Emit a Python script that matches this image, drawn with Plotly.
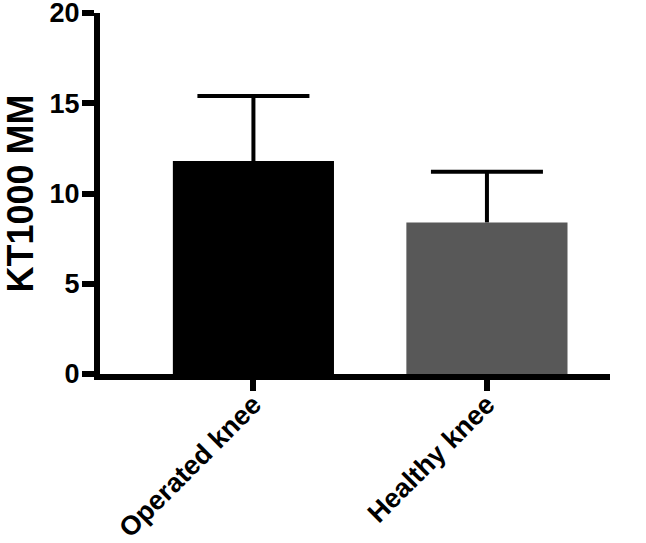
import plotly.graph_objects as go

categories = ["Operated knee", "Healthy knee"]
means = [11.8, 8.4]
errors = [3.6, 2.8]
bar_colors = ["#000000", "#585858"]
y_ticks = [0, 5, 10, 15, 20]

tops = [m + e for m, e in zip(means, errors)]

fig = go.Figure()
fig.add_trace(go.Bar(
    x=categories, y=means, width=0.69,
    marker=dict(color=bar_colors, line=dict(width=0)),
    showlegend=False,
))
fig.add_trace(go.Scatter(
    x=categories, y=tops, mode="markers",
    marker=dict(symbol="line-ew-open", size=80, color="black",
                line=dict(width=4, color="black")),
    error_y=dict(type="data", symmetric=False, array=[0, 0], arrayminus=errors,
                 width=0, thickness=4, color="black"),
    showlegend=False,
))

fig.update_layout(
    width=646, height=543,
    margin=dict(l=100, r=36, t=13, b=169),
    plot_bgcolor="white", paper_bgcolor="white",
    font=dict(family="Liberation Sans, Arial, sans-serif", color="black"),
)
fig.update_xaxes(
    range=[-0.657, 1.527],
    showline=True, linewidth=6, linecolor="black",
    ticks="outside", ticklen=11, tickwidth=6, tickcolor="black",
    tickangle=-45, automargin=False, ticklabeloverflow="allow",
    ticklabelstandoff=-13,
    tickfont=dict(size=27, weight="bold", color="black"),
    showgrid=False, zeroline=False,
)
fig.update_yaxes(
    range=[0, 20], tickvals=y_ticks,
    showline=True, linewidth=6, linecolor="black",
    ticks="outside", ticklen=12, tickwidth=6, tickcolor="black",
    automargin=False, ticklabeloverflow="allow",
    ticklabelstandoff=-3,
    tickfont=dict(size=27, weight="bold", color="black"),
    title=dict(text="KT1000 MM", font=dict(size=36, weight="bold", color="black"), standoff=19),
    showgrid=False, zeroline=False,
)

fig.write_html(
    "out.html",
    config={"displayModeBar": False},
    post_script="document.body.style.margin='0';document.body.style.overflow='hidden';",
)
